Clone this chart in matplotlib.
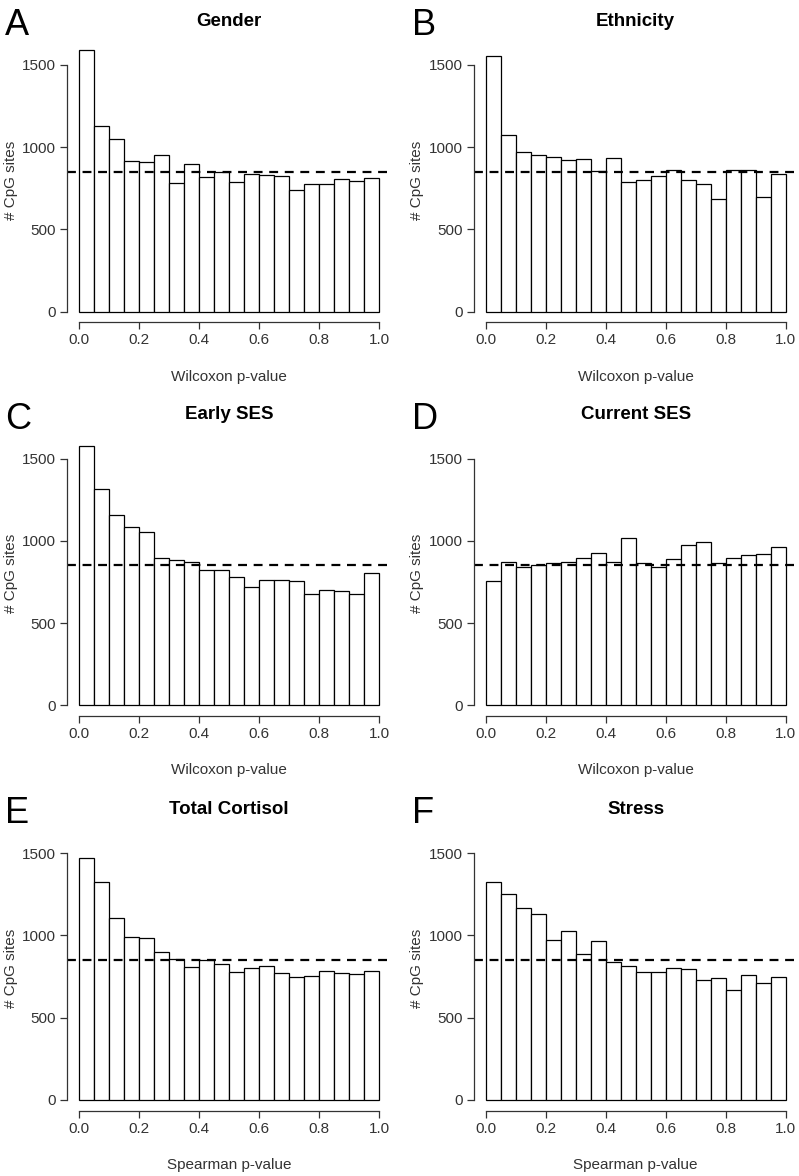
import numpy as np
import matplotlib
matplotlib.use("Agg")
import matplotlib.pyplot as plt

plt.rcParams['font.family'] = ['Liberation Sans', 'DejaVu Sans']

# bin edges for p-value histograms (20 bins of width 0.05)
bin_edges = np.linspace(0, 1, 21)

gender = [1591, 1128, 1051, 918, 912, 954, 780, 900, 817, 851,
          786, 837, 833, 827, 742, 778, 778, 809, 796, 815]
ethnicity = [1557, 1074, 973, 951, 939, 920, 926, 857, 932, 791,
             803, 827, 859, 803, 778, 683, 862, 864, 697, 837]
early_ses = [1577, 1318, 1157, 1083, 1056, 896, 882, 870, 823, 825,
             782, 722, 762, 762, 758, 679, 703, 697, 679, 807]
current_ses = [755, 873, 840, 852, 867, 869, 893, 924, 869, 1017,
               865, 842, 887, 976, 993, 867, 893, 915, 920, 962]
cortisol = [1472, 1322, 1105, 988, 984, 899, 858, 806, 850, 826,
            775, 800, 816, 771, 745, 755, 785, 771, 767, 783]
stress = [1322, 1253, 1164, 1130, 972, 1026, 887, 968, 836, 812,
          779, 775, 804, 798, 731, 743, 666, 761, 711, 745]

letters = ['A', 'B', 'C', 'D', 'E', 'F']
titles = ['Gender', 'Ethnicity', 'Early SES', 'Current SES', 'Total Cortisol', 'Stress']
xlabels = ['Wilcoxon p-value'] * 4 + ['Spearman p-value'] * 2
counts = [gender, ethnicity, early_ses, current_ses, cortisol, stress]
expected = 850

W, H = 799, 1176
fig = plt.figure(figsize=(W / 100, H / 100), dpi=100)

# plot region in pixels: left, top, right, bottom
boxes = [(67.3, 38.0, 391.3, 322.2), (473.7, 38.0, 797.7, 322.2),
         (67.3, 431.6, 391.3, 715.8), (473.7, 431.6, 797.7, 715.8),
         (67.3, 826.0, 391.3, 1110.5), (473.7, 826.0, 797.7, 1110.5)]

txt = '#333333'
for i in range(6):
    l, t, r, b = boxes[i]
    ax = fig.add_axes([l / W, 1 - b / H, (r - l) / W, (b - t) / H])
    ax.bar(bin_edges[:-1], counts[i], width=0.05, align='edge',
           facecolor='white', edgecolor='black', linewidth=0.9)
    ax.axhline(expected, color='black', lw=1.6, ls=(0, (4, 3)))
    ax.set_xlim(-0.04, 1.04)
    ax.set_ylim(-64, 1664)
    ax.set_xticks([0, 0.2, 0.4, 0.6, 0.8, 1.0])
    ax.set_xticklabels(['0.0', '0.2', '0.4', '0.6', '0.8', '1.0'])
    ax.set_yticks([0, 500, 1000, 1500])
    for s in ['top', 'right']:
        ax.spines[s].set_visible(False)
    ax.spines['left'].set_bounds(0, 1500)
    ax.spines['bottom'].set_bounds(0, 1)
    for s in ['left', 'bottom']:
        ax.spines[s].set_color('#333333')
        ax.spines[s].set_linewidth(0.9)
    ax.tick_params(length=5, width=0.9, color='#333333', labelsize=11,
                   labelcolor=txt, pad=3)
    ax.set_ylabel('# CpG sites', fontsize=11, color=txt, labelpad=3)
    ax.set_xlabel(xlabels[i], fontsize=11, color=txt, labelpad=16)
    ax.set_title(titles[i], fontsize=13.5, fontweight='bold', pad=9)
    fig.text((l - 62) / W, 1 - (t - 3) / H, letters[i], fontsize=26,
             ha='left', va='baseline')

fig.savefig('out.png', dpi=100)
